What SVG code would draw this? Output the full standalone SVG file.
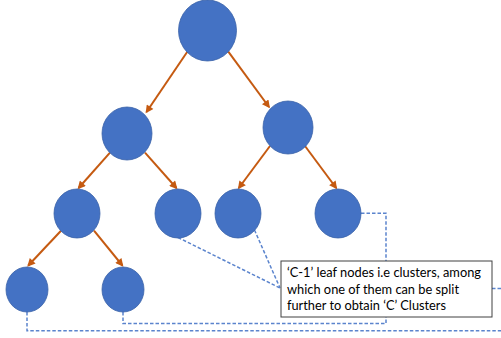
<svg xmlns="http://www.w3.org/2000/svg" width="501" height="338" viewBox="0 0 501 338">
<style>
.node{fill:#4472C4;stroke:#3A62A8;stroke-width:0.8}
.arrow{stroke:#C55A11;stroke-width:2;fill:none;marker-end:url(#ah)}
.dash{stroke:#5B84CD;stroke-width:1.5;fill:none;stroke-dasharray:3.5 2}
.box{fill:#FFFFFF;stroke:#404040;stroke-width:1}
.lbl{font-family:Lato,"Liberation Sans",Arial,sans-serif;font-size:13px;fill:#000000}
</style>
<defs>
<marker id="ah" viewBox="0 0 10 10" refX="8" refY="5" markerWidth="9" markerHeight="8" markerUnits="userSpaceOnUse" orient="auto">
<path d="M0,0 L10,5 L0,10 z" fill="#C55A11"/>
</marker>
</defs>
<rect width="501" height="338" fill="#FFFFFF"/>
<g id="connectors">
<line class="arrow" x1="187.3" y1="51.7" x2="146.5" y2="112"/>
<line class="arrow" x1="228.3" y1="51.7" x2="269" y2="107"/>
<line class="arrow" x1="110" y1="152.7" x2="78.6" y2="188"/>
<line class="arrow" x1="145" y1="152.7" x2="176.4" y2="188"/>
<line class="arrow" x1="270" y1="146" x2="238.8" y2="188"/>
<line class="arrow" x1="305" y1="146" x2="336.2" y2="188"/>
<line class="arrow" x1="61" y1="230.7" x2="28.3" y2="265.5"/>
<line class="arrow" x1="94" y1="230.7" x2="122.4" y2="265.5"/>
<path class="dash" d="M178,237.5 L280,288"/>
<path class="dash" d="M254.5,230 L280,288"/>
<path class="dash" d="M361,213.3 H386 V261"/>
<path class="dash" d="M123,312 V323.5 H386 V317"/>
<path class="dash" d="M27,312 V330.7 H501"/>
<path class="dash" d="M492,288.5 H501"/>
</g>
<g id="root"><ellipse class="node" cx="207.5" cy="30.5" rx="29" ry="30.5"/></g>
<g id="n1l"><ellipse class="node" cx="127" cy="133.5" rx="25" ry="26.5"/></g>
<g id="n1r"><ellipse class="node" cx="288" cy="127.5" rx="25" ry="26.5"/></g>
<g id="n2a"><ellipse class="node" cx="77" cy="213.5" rx="23" ry="24.5"/></g>
<g id="n2b"><ellipse class="node" cx="178" cy="213.5" rx="23" ry="24.5"/></g>
<g id="n2c"><ellipse class="node" cx="238" cy="213.5" rx="23" ry="24.5"/></g>
<g id="n2d"><ellipse class="node" cx="338" cy="213.5" rx="23" ry="24.5"/></g>
<g id="n3e"><ellipse class="node" cx="27" cy="289.5" rx="21" ry="22.5"/></g>
<g id="n3f"><ellipse class="node" cx="123" cy="289.5" rx="21" ry="22.5"/></g>
<g id="label">
<rect class="box" x="281" y="261" width="211" height="56"/>
<text class="lbl" x="287" y="277.3" textLength="194" lengthAdjust="spacingAndGlyphs">‘C-1’ leaf nodes i.e clusters, among</text>
<text class="lbl" x="287" y="293.8" textLength="172" lengthAdjust="spacingAndGlyphs">which one of them can be split</text>
<text class="lbl" x="287" y="310" textLength="159" lengthAdjust="spacingAndGlyphs">further to obtain ‘C’ Clusters</text>
</g>
</svg>
